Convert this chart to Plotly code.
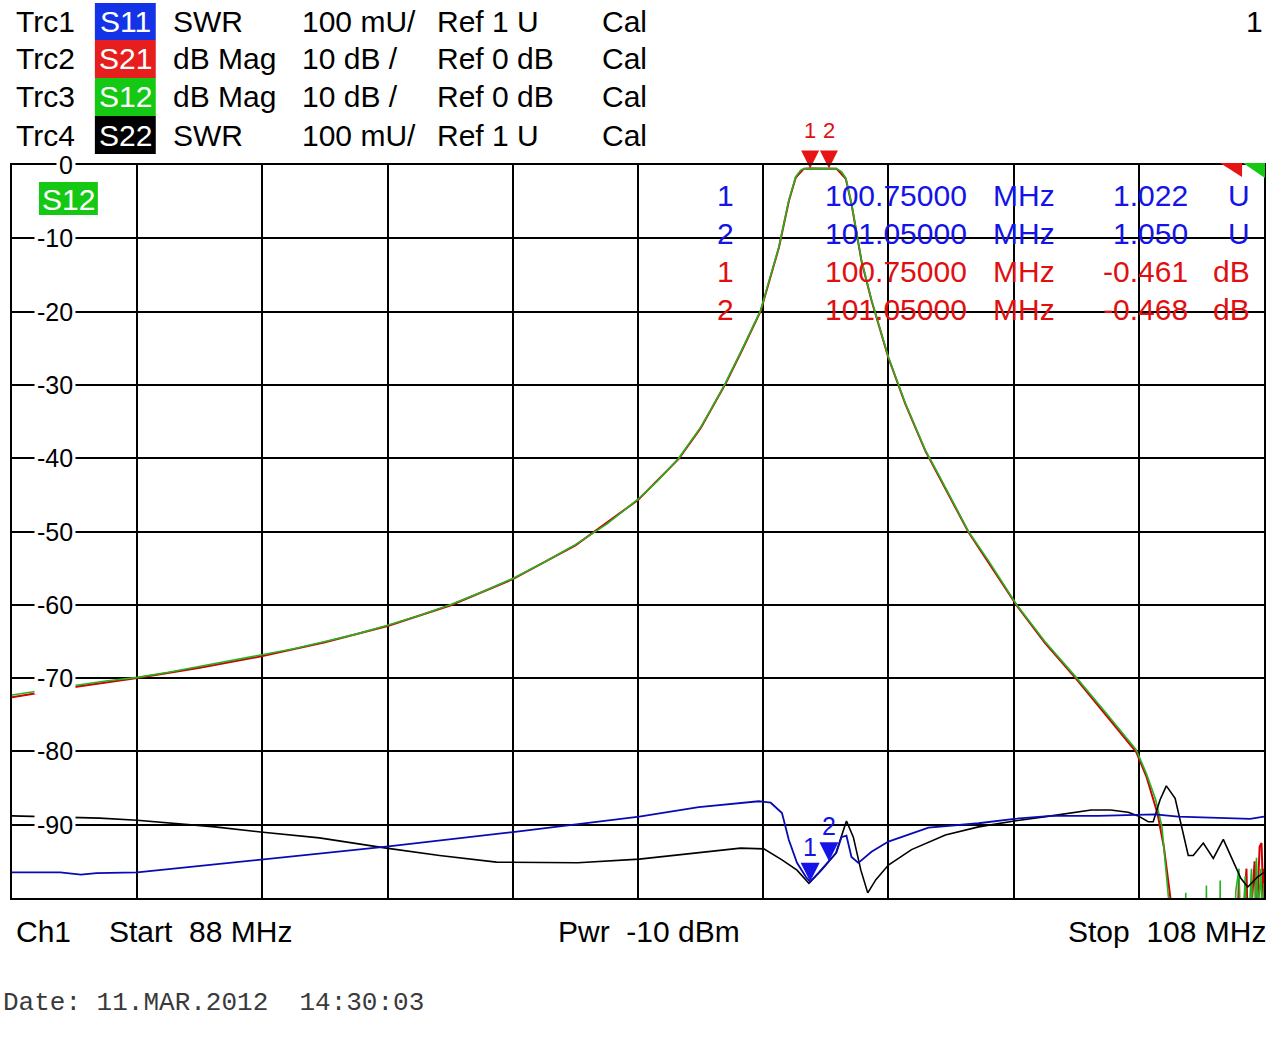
import plotly.graph_objects as go

# ------------------------------------------------------------------ data
start_mhz = 88
stop_mhz = 108
power_dbm = -10

freq_s12 = [88.0, 88.5, 89.0, 89.5, 90.0, 90.5, 91.0, 91.5, 92.0, 92.5, 93.0, 93.5,
            94.0, 94.5, 95.0, 95.5, 96.0, 96.5, 97.0, 97.5, 98.0, 98.3, 98.65, 99.0,
            99.2, 99.4, 99.66, 99.8, 99.96, 100.1, 100.25, 100.41, 100.52, 100.6, 100.65,
            100.75, 100.9, 101.05, 101.17, 101.25, 101.32, 101.41, 101.5, 101.57, 101.73,
            101.85, 102.0, 102.27, 102.59, 102.8, 103.0, 103.28, 103.6, 104.05, 104.5,
            105.0, 105.5, 105.96, 106.12, 106.27, 106.37, 106.48, 106.55, 106.74, 106.75,
            106.76, 107.07, 107.08, 107.09, 107.29, 107.3, 107.31, 107.5, 107.55, 107.6,
            107.63, 107.7, 107.73, 107.8, 107.83, 107.88, 107.9, 107.95, 107.98, 108.0]
s12_db = [-72.3, -71.6, -71.0, -70.4, -69.9, -69.2, -68.4, -67.7, -66.9, -66.0, -65.0, -64.0,
          -62.8, -61.5, -60.0, -58.3, -56.4, -54.2, -51.8, -49.0, -45.6, -43.2, -40.0, -35.8,
          -32.8, -29.7, -25.2, -22.6, -19.8, -15.6, -11.2, -4.8, -1.6, -0.7, -0.5,
          -0.461, -0.45, -0.468, -0.5, -0.9, -1.8, -5.2, -9.6, -13.0, -18.4,
          -22.0, -26.2, -32.5, -38.9, -42.2, -45.4, -50.0, -54.0, -60.0, -65.0,
          -69.9, -75.0, -79.8, -83.0, -86.6, -90.3, -100.5, -112, -112, -99.3,
          -112, -112, -98.3, -112, -112, -97.6, -112, -112, -99.0, -96.0,
          -110, -97.0, -108, -96.0, -110, -94.5, -103, -96.0, -108, -98.0]

freq_s21 = [88.0, 89.0, 90.0, 91.0, 92.0, 93.0, 94.0, 95.0, 96.0, 97.0, 98.0, 98.65, 99.0,
            99.4, 99.66, 99.96, 100.25, 100.41, 100.52, 100.65, 100.75, 100.9, 101.05, 101.17,
            101.32, 101.41, 101.57, 101.73, 102.0, 102.27, 102.59, 103.0, 103.28, 104.05,
            104.5, 105.0, 105.5, 105.96, 106.12, 106.3, 106.4, 106.52, 106.6, 107.55, 107.6,
            107.62, 107.72, 107.75, 107.85, 107.88, 107.93, 107.96, 107.99, 108.0]
s21_db = [-72.6, -71.2, -70.0, -68.6, -67.0, -65.1, -62.9, -60.1, -56.5, -51.9, -45.7, -40.1, -35.9,
          -29.8, -25.3, -19.9, -11.3, -4.9, -1.7, -0.5, -0.461, -0.46, -0.468, -0.5,
          -1.9, -5.3, -13.1, -18.5, -26.3, -32.6, -39.0, -45.5, -50.1, -60.1,
          -65.2, -70.1, -75.3, -80.1, -83.4, -88.5, -93.0, -101, -112, -112, -97.0,
          -110, -96.0, -108, -95.0, -104, -93.0, -92.5, -100, -96.0]

freq_s11 = [88.0, 88.77, 89.1, 89.35, 90.0, 91.97, 93.98, 96.0, 98.02, 98.97, 99.61, 99.93,
            100.12, 100.30, 100.41, 100.54, 100.68, 100.75, 100.88, 101.05, 101.17, 101.25,
            101.33, 101.41, 101.52, 101.73, 102.0, 102.64, 103.44, 104.01, 104.6, 105.35,
            106.26, 106.63, 107.16, 107.78, 108.0]
s11_swr = [1.035, 1.035, 1.032, 1.034, 1.035, 1.052, 1.070, 1.090, 1.111, 1.124, 1.130, 1.132,
           1.130, 1.116, 1.079, 1.048, 1.029, 1.022, 1.034, 1.050, 1.062, 1.083,
           1.085, 1.056, 1.048, 1.063, 1.077, 1.096, 1.102, 1.108, 1.112, 1.112,
           1.114, 1.111, 1.110, 1.108, 1.111]

freq_s22 = [88.0, 88.77, 89.4, 90.0, 90.54, 91.24, 91.97, 92.91, 93.98, 94.83, 95.74, 97.04,
            98.02, 98.97, 99.64, 100.01, 100.30, 100.54, 100.73, 100.93, 101.16, 101.33,
            101.44, 101.56, 101.67, 101.80, 102.0, 102.37, 102.91, 103.44, 104.01, 104.6,
            105.03, 105.24, 105.55, 105.83, 105.99, 106.15, 106.23, 106.34, 106.44, 106.58,
            106.79, 106.87, 107.03, 107.19, 107.35, 107.47, 107.63, 107.74, 107.9, 108.0]
s22_swr = [1.112, 1.110, 1.109, 1.106, 1.102, 1.097, 1.090, 1.082, 1.068, 1.058, 1.049, 1.048,
           1.053, 1.062, 1.068, 1.067, 1.052, 1.038, 1.020, 1.038, 1.061, 1.105,
           1.083, 1.038, 1.007, 1.025, 1.045, 1.066, 1.086, 1.097, 1.105, 1.112,
           1.117, 1.120, 1.120, 1.117, 1.112, 1.104, 1.104, 1.134, 1.153, 1.136,
           1.058, 1.058, 1.075, 1.054, 1.080, 1.058, 1.027, 1.015, 1.029, 1.035]

marker_ids = ["1", "2"]
marker_freq = [100.75, 101.05]
marker_s11 = [1.022, 1.050]
marker_s21 = [-0.461, -0.468]

ytick_vals = [0, -10, -20, -30, -40, -50, -60, -70, -80, -90]

trace_names = ["Trc1", "Trc2", "Trc3", "Trc4"]
trace_params = ["S11", "S21", "S12", "S22"]
trace_formats = ["SWR", "dB Mag", "dB Mag", "SWR"]
trace_scales = ["100 mU/", "10 dB /", "10 dB /", "100 mU/"]
trace_refs = ["Ref 1 U", "Ref 0 dB", "Ref 0 dB", "Ref 1 U"]
trace_cal = ["Cal", "Cal", "Cal", "Cal"]
date_text = "Date: 11.MAR.2012  14:30:03"

# ------------------------------------------------------------------ style
W, H = 1278, 1052
L, R, T, B = 12, 1266, 165, 898
SANS = "Liberation Sans, Arial, sans-serif"
MONO = "Liberation Mono, Courier New, monospace"
BADGE = {"S11": "#1432e6", "S21": "#e61e1e", "S12": "#14c814", "S22": "#000000"}
LINE_BLUE = "#0a0ab4"
LINE_RED = "#d20000"
LINE_GREEN = "#22b422"
TXT_BLUE = "#1414e6"
TXT_RED = "#e01010"


def px(x):
    return (x - L) / (R - L)


def py(y):
    return (B - y) / (B - T)


fig = go.Figure()

fig.add_trace(go.Scatter(x=freq_s22, y=s22_swr, yaxis="y2", mode="lines",
                         line=dict(color="black", width=1.6), hoverinfo="skip"))
fig.add_trace(go.Scatter(x=freq_s11, y=s11_swr, yaxis="y2", mode="lines",
                         line=dict(color=LINE_BLUE, width=1.8), hoverinfo="skip"))
fig.add_trace(go.Scatter(x=freq_s21, y=s21_db, mode="lines",
                         line=dict(color=LINE_RED, width=2.0), hoverinfo="skip"))
fig.add_trace(go.Scatter(x=freq_s12, y=s12_db, mode="lines",
                         line=dict(color=LINE_GREEN, width=1.6), hoverinfo="skip"))

# marker triangles (tip at the marker value)
fig.add_trace(go.Scatter(x=marker_freq, y=marker_s21, mode="markers", cliponaxis=False,
                         marker=dict(symbol="arrow-down", size=18, color="#e61414",
                                     line=dict(width=0)), hoverinfo="skip"))
fig.add_trace(go.Scatter(x=marker_freq, y=marker_s11, yaxis="y2", mode="markers",
                         cliponaxis=False,
                         marker=dict(symbol="arrow-down", size=19, color="#1414e6",
                                     line=dict(width=0)), hoverinfo="skip"))

ann = []


def text(t, x, y, anchor="left", size=30, color="black", family=SANS, bg=None, pad=1,
         xref="paper", yref="paper", yshift=0):
    d = dict(text=t, x=x, y=y, xref=xref, yref=yref, xanchor=anchor, yanchor="middle",
             showarrow=False, font=dict(family=family, size=size, color=color),
             borderpad=pad, yshift=yshift)
    if bg:
        d["bgcolor"] = bg
    ann.append(d)


shapes = []

# header block
row_y = [21, 59, 97, 135]
box_edges = [3, 40, 78, 116, 154]
for i in range(4):
    y = row_y[i]
    text(trace_names[i], px(14), py(y))
    shapes.append(dict(type="rect", xref="paper", yref="paper", x0=px(95), x1=px(156),
                       y0=py(box_edges[i + 1]), y1=py(box_edges[i]),
                       fillcolor=BADGE[trace_params[i]], line=dict(width=0), layer="above"))
    text(trace_params[i], px(125.5), py(y), anchor="center", color="white")
    text(trace_formats[i], px(171), py(y))
    text(trace_scales[i], px(300), py(y))
    text(trace_refs[i], px(436), py(y))
    text(trace_cal[i], px(601), py(y))
text("1", px(1267), py(21), anchor="right")

# y tick labels over the grid lines
for v in ytick_vals:
    text(f"{v}", px(76), v, anchor="right", size=25, yref="y", bg="white", pad=2)

# S12 badge in the diagram
shapes.append(dict(type="rect", xref="paper", yref="paper", x0=px(39), x1=px(98),
                   y0=py(215), y1=py(182), fillcolor=BADGE["S12"], line=dict(width=0),
                   layer="above"))
text("S12", px(68.5), py(199), anchor="center", color="white")

# overflow indicators at the top-right corner
shapes.append(dict(type="path", xref="paper", yref="paper", layer="above",
                   path=f"M{px(1222)},{py(163)} L{px(1244)},{py(163)} L{px(1244)},{py(177)} Z",
                   fillcolor="#e61414", line=dict(width=0)))
shapes.append(dict(type="path", xref="paper", yref="paper", layer="above",
                   path=f"M{px(1245)},{py(163)} L{px(1267)},{py(163)} L{px(1267)},{py(178)} Z",
                   fillcolor="#14c814", line=dict(width=0)))

# marker table
table_y = [195, 233, 271, 309]
rows = [(marker_ids[0], marker_freq[0], f"{marker_s11[0]:.3f}", "U", TXT_BLUE),
        (marker_ids[1], marker_freq[1], f"{marker_s11[1]:.3f}", "U", TXT_BLUE),
        (marker_ids[0], marker_freq[0], f"{marker_s21[0]:.3f}", "dB", TXT_RED),
        (marker_ids[1], marker_freq[1], f"{marker_s21[1]:.3f}", "dB", TXT_RED)]
for (mid, f, val, unit, col), y in zip(rows, table_y):
    text(mid, px(727), py(y), anchor="center", color=col)
    text(f"{f:.5f}", px(971), py(y), anchor="right", color=col)
    text("MHz", px(993), py(y), color=col)
    text(val, px(1192), py(y), anchor="right", color=col)
    text(unit, px(1254), py(y), anchor="right", color=col)

# marker numbers above the triangles
for mid, f, v in zip(marker_ids, marker_freq, marker_s21):
    text(mid, f, v, anchor="center", size=22, color=TXT_RED, xref="x", yref="y", yshift=38)
for mid, f, v in zip(marker_ids, marker_freq, marker_s11):
    text(mid, f, v, anchor="center", size=25, color=TXT_BLUE, xref="x", yref="y2", yshift=35)

# footer
text("Ch1", px(14), py(931))
text(f"Start  {start_mhz} MHz", px(107), py(931))
text(f"Pwr  {power_dbm} dBm", px(650), py(931), anchor="center")
text(f"Stop  {stop_mhz} MHz", px(1270), py(931), anchor="right")
text(date_text, px(1), py(1003), size=26, family=MONO, color="#3a3a3a")

fig.update_layout(
    width=W, height=H,
    margin=dict(l=L, r=W - R, t=T, b=H - B, pad=0),
    paper_bgcolor="white", plot_bgcolor="white",
    showlegend=False,
    xaxis=dict(range=[start_mhz, stop_mhz], dtick=2, tick0=start_mhz, showticklabels=False,
               ticks="", showgrid=True, gridcolor="black", gridwidth=2, zeroline=False,
               showline=True, linecolor="black", linewidth=2, mirror=True, fixedrange=True),
    yaxis=dict(range=[-100, 0], dtick=10, tick0=0, showticklabels=False, ticks="",
               showgrid=True, gridcolor="black", gridwidth=2, zeroline=False,
               showline=True, linecolor="black", linewidth=2, mirror=True, fixedrange=True),
    yaxis2=dict(range=[1.0, 2.0], overlaying="y", visible=False, showgrid=False,
                zeroline=False, fixedrange=True),
    annotations=ann,
    shapes=shapes,
)

fig.write_html(
    "out.html",
    config={"displayModeBar": False},
    post_script="document.body.style.margin='0';document.body.style.overflow='hidden';",
)
